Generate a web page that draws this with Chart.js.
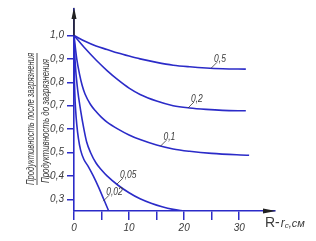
<!DOCTYPE html>
<html lang="ru">
<head>
    <meta charset="UTF-8">
    <title>Продуктивность после загрязнения</title>
    <script src="https://cdn.jsdelivr.net/npm/chart.js"></script>
    <style>
        html, body {
            margin: 0;
            padding: 0;
            background: #fff;
        }
        .chart-container {
            position: relative;
            width: 316px;
            height: 241px;
        }
    </style>
</head>
<body>

<div class="chart-container">
    <canvas id="grafico"></canvas>
</div>

<script>
    // данные кривых (R - rc, см -> отношение продуктивностей)
    const curveNames = ['0,5', '0,2', '0,1', '0,05', '0,02'];

    const x05 = [0, 2, 4, 6, 8, 10, 12, 15, 18, 21, 24, 27, 31.2];
    const y05 = [1.0, 0.975, 0.955, 0.94, 0.925, 0.912, 0.9, 0.885, 0.873, 0.866, 0.861, 0.858, 0.856];

    const x02 = [0, 2, 4, 6, 8, 10, 12, 15, 18, 21, 24, 27, 31.2];
    const y02 = [1.0, 0.945, 0.895, 0.85, 0.81, 0.775, 0.748, 0.72, 0.7, 0.69, 0.684, 0.68, 0.678];

    const x01 = [0, 0.5, 1, 1.5, 2, 3, 4, 5, 6, 8, 10, 12, 15, 18, 21, 25, 31.8];
    const y01 = [1.0, 0.9, 0.835, 0.785, 0.75, 0.705, 0.675, 0.65, 0.63, 0.6, 0.575, 0.555, 0.532, 0.515, 0.505, 0.496, 0.488];

    const x005 = [0, 0.2, 0.65, 1.2, 1.8, 2.3, 3, 4, 5, 6, 8, 10, 12, 14, 16, 18, 20];
    const y005 = [1.0, 0.89, 0.77, 0.68, 0.6, 0.545, 0.5, 0.455, 0.425, 0.4, 0.36, 0.328, 0.302, 0.283, 0.268, 0.257, 0.25];

    const x002 = [0, 0.05, 0.15, 0.3, 0.5, 0.8, 1.2, 1.8, 2.6, 3.5, 4.5, 5.4, 6.3];
    const y002 = [1.0, 0.85, 0.75, 0.68, 0.62, 0.56, 0.51, 0.47, 0.44, 0.4, 0.35, 0.3, 0.25];

    // подписи осей
    const xTickValues = [0, 5, 10, 15, 20, 25, 30];
    const xTickLabels = ['0', '', '10', '', '20', '', '30'];
    const yTickValues = [0.3, 0.4, 0.5, 0.6, 0.7, 0.8, 0.9, 1.0];

    // точки выносок: [x на кривой, y на кривой]
    const labelAnchorX = [24.9, 20.7, 15.7, 7.8, 5.3];
    const labelAnchorY = [0.86, 0.69, 0.527, 0.365, 0.292];

    const blue = '#2b2bc8';
    const gray = '#3a3a3a';
    const font = "'Liberation Sans', Arial, sans-serif";

    function pts(xs, ys) {
        return xs.map((x, i) => ({ x: x, y: ys[i] }));
    }

    const series = [pts(x05, y05), pts(x02, y02), pts(x01, y01), pts(x005, y005), pts(x002, y002)];

    // узкий текст, подогнанный под нужную ширину
    function narrowText(ctx, text, x, y, sx) {
        ctx.save();
        ctx.translate(x, y);
        ctx.scale(sx, 1);
        ctx.fillText(text, 0, 0);
        ctx.restore();
    }

    const decor = {
        id: 'decor',
        afterDraw(chart) {
            const ctx = chart.ctx;
            const xs = chart.scales.x;
            const ys = chart.scales.y;
            const area = chart.chartArea;
            const x0 = xs.getPixelForValue(0);
            const yb = ys.getPixelForValue(ys.min);
            ctx.save();

            // стрелка оси Y
            ctx.strokeStyle = '#222';
            ctx.fillStyle = '#222';
            ctx.lineWidth = 1.5;
            ctx.beginPath();
            ctx.moveTo(x0, ys.getPixelForValue(1.0));
            ctx.lineTo(x0, area.top + 4);
            ctx.stroke();
            ctx.beginPath();
            ctx.moveTo(x0, area.top - 2);
            ctx.lineTo(x0 - 2.5, area.top + 10);
            ctx.lineTo(x0 + 2.5, area.top + 10);
            ctx.closePath();
            ctx.fill();

            // стрелка оси X
            ctx.beginPath();
            ctx.moveTo(area.right + 1, yb);
            ctx.lineTo(area.right - 12, yb - 2.5);
            ctx.lineTo(area.right - 12, yb + 2.5);
            ctx.closePath();
            ctx.fill();

            // выноски кривых
            ctx.strokeStyle = gray;
            ctx.fillStyle = gray;
            ctx.lineWidth = 0.8;
            ctx.font = 'italic 10px ' + font;
            ctx.textBaseline = 'alphabetic';
            ctx.textAlign = 'left';
            curveNames.forEach((name, i) => {
                const px = xs.getPixelForValue(labelAnchorX[i]);
                const py = ys.getPixelForValue(labelAnchorY[i]);
                ctx.beginPath();
                ctx.moveTo(px, py);
                ctx.lineTo(px + 6, py - 6);
                ctx.stroke();
                narrowText(ctx, name, px + 3, py - 6, 0.85);
            });

            // подпись оси X
            const tx = area.right - 10;
            const ty = yb + 16;
            ctx.font = '14px ' + font;
            ctx.fillText('R-', tx, ty);
            let w = ctx.measureText('R-').width;
            ctx.font = 'italic 12px ' + font;
            ctx.fillText('r', tx + w + 1, ty);
            w += ctx.measureText('r').width + 1;
            ctx.font = 'italic 8px ' + font;
            ctx.fillText('с', tx + w, ty + 1);
            w += ctx.measureText('с').width;
            ctx.font = 'italic 11px ' + font;
            ctx.fillText(',см', tx + w, ty);

            // подпись оси Y (дробь)
            ctx.translate(38, 119);
            ctx.rotate(-Math.PI / 2);
            ctx.textAlign = 'left';
            ctx.textBaseline = 'middle';
            ctx.font = 'italic 10px ' + font;
            const top = 'Продуктивность после загрязнения';
            const bot = 'Продуктивность до загрязнения';
            const s1 = 132 / ctx.measureText(top).width;
            const s2 = 124 / ctx.measureText(bot).width;
            narrowText(ctx, top, -66, -7, s1);
            narrowText(ctx, bot, -64, 8.5, s2);
            ctx.lineWidth = 0.9;
            ctx.beginPath();
            ctx.moveTo(-66, -1);
            ctx.lineTo(66, -1);
            ctx.stroke();
            ctx.restore();
        }
    };

    new Chart(document.getElementById('grafico'), {
        type: 'line',
        data: {
            datasets: series.map((d, i) => ({
                label: curveNames[i],
                data: d,
                borderColor: blue,
                borderWidth: 1.6,
                pointRadius: 0,
                fill: false,
                cubicInterpolationMode: 'monotone'
            }))
        },
        options: {
            responsive: true,
            maintainAspectRatio: false,
            animation: false,
            layout: { padding: { top: 5, right: 41, left: 0, bottom: 0 } },
            plugins: {
                legend: { display: false },
                tooltip: { enabled: false }
            },
            scales: {
                x: {
                    type: 'linear',
                    min: 0,
                    max: 36.5,
                    afterBuildTicks: (scale) => {
                        scale.ticks = xTickValues.map(v => ({ value: v }));
                    },
                    afterFit: (scale) => { scale.height = 30; },
                    ticks: {
                        autoSkip: false,
                        maxRotation: 0,
                        padding: 2,
                        color: gray,
                        font: { family: font, size: 10, style: 'italic' },
                        callback: (v) => xTickLabels[xTickValues.indexOf(v)]
                    },
                    grid: {
                        drawOnChartArea: false,
                        drawTicks: true,
                        tickLength: 9,
                        color: blue,
                        lineWidth: 1.5
                    },
                    border: { display: true, color: blue, width: 1.6 }
                },
                y: {
                    type: 'linear',
                    min: 0.25,
                    max: 1.113,
                    afterBuildTicks: (scale) => {
                        scale.ticks = yTickValues.map(v => ({ value: v }));
                    },
                    afterFit: (scale) => { scale.width = 74; },
                    ticks: {
                        autoSkip: false,
                        padding: 3,
                        color: gray,
                        font: { family: font, size: 10, style: 'italic' },
                        callback: (v) => v.toFixed(1).replace('.', ',')
                    },
                    grid: {
                        drawOnChartArea: false,
                        drawTicks: true,
                        tickLength: 7,
                        color: blue,
                        lineWidth: 1.5
                    },
                    border: { display: true, color: blue, width: 1.6 }
                }
            }
        },
        plugins: [decor]
    });
</script>

</body>
</html>
